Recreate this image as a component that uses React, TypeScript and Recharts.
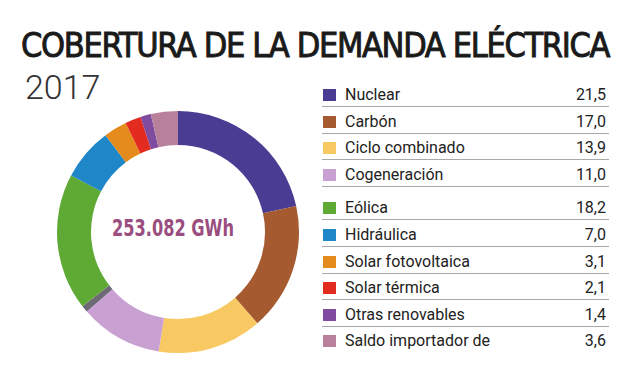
import React from "react";
import { PieChart, Pie, Cell, Label, Legend } from "recharts";

if (typeof document !== "undefined") {
  document.body.style.margin = "0";
}

const categories = [
  "Nuclear",
  "Carbón",
  "Ciclo combinado",
  "Cogeneración",
  "Residuos",
  "Eólica",
  "Hidráulica",
  "Solar fotovoltaica",
  "Solar térmica",
  "Otras renovables",
  "Saldo importador de",
];
const values = [21.5, 17.0, 13.9, 11.0, 0.9, 18.2, 7.0, 3.1, 2.1, 1.4, 3.6];
const valueLabels = ["21,5", "17,0", "13,9", "11,0", "", "18,2", "7,0", "3,1", "2,1", "1,4", "3,6"];
const colors = [
  "#4a3b93",
  "#a65a30",
  "#f8c962",
  "#c9a0d2",
  "#6d6a75",
  "#5eaa34",
  "#1f86c8",
  "#e58a1c",
  "#e42b20",
  "#7f4c9f",
  "#b8809a",
];
const hiddenInLegend = ["Residuos"];
const title = "COBERTURA DE LA DEMANDA ELÉCTRICA";
const subtitle = "2017";
const centerText = "253.082 GWh";

const data = categories.map((name, i) => ({ name, value: values[i], label: valueLabels[i], color: colors[i] }));

const TITLE_FONT = "'Liberation Sans Narrow', 'DejaVu Sans Condensed', sans-serif";
const TITLE_SIZE = 34;
const TITLE_WIDTH = 588;

function titleSpacing(): number {
  try {
    const c = document.createElement("canvas");
    const ctx = c.getContext("2d");
    if (!ctx) return 0;
    ctx.font = `${TITLE_SIZE}px ${TITLE_FONT}`;
    const w = ctx.measureText(title).width;
    return (TITLE_WIDTH - w) / title.length;
  } catch {
    return 0;
  }
}

const LegendContent = () => {
  const rows = data.filter((d) => !hiddenInLegend.includes(d.name));
  return (
    <div style={{ position: "relative", width: 287, height: 280 }}>
      {rows.map((d, i) => {
        const top = i * 26.6 + (i >= 4 ? 7 : 0);
        return (
          <div
            key={d.name}
            style={{
              position: "absolute",
              left: 0,
              top,
              width: 287,
              height: 24,
              borderBottom: i < rows.length - 1 ? "1px solid #a9a9a9" : "none",
              fontFamily: "Roboto, 'Noto Sans', sans-serif",
              fontSize: 16,
              color: "#222",
            }}
          >
            <div
              style={{
                position: "absolute",
                left: 1,
                top: 7,
                width: 13,
                height: 12,
                background: d.color,
              }}
            />
            <div style={{ position: "absolute", left: 23, top: 3, lineHeight: "20px", whiteSpace: "nowrap" }}>{d.name}</div>
            <div style={{ position: "absolute", right: 3, top: 3, lineHeight: "20px" }}>{d.label}</div>
          </div>
        );
      })}
    </div>
  );
};

const CenterLabel = (props: any) => {
  const vb = props.viewBox || {};
  const cx = vb.cx ?? 173;
  const cy = vb.cy ?? 227;
  return (
    <text
      x={cx}
      y={cy + 9}
      textAnchor="middle"
      fill="#9a4d7e"
      fontFamily="'Liberation Sans Narrow', 'DejaVu Sans Condensed', sans-serif"
      fontWeight="bold"
      fontSize={23}
      textLength={122}
      lengthAdjust="spacingAndGlyphs"
    >
      {centerText}
    </text>
  );
};

export default function App() {
  const ls = titleSpacing();
  return (
    <div style={{ position: "relative", width: 640, height: 384, background: "#fff", overflow: "hidden" }}>
      <div style={{ position: "absolute", left: 0, top: 0 }}>
        <PieChart width={640} height={384}>
          <Pie
            data={data}
            dataKey="value"
            nameKey="name"
            cx={173}
            cy={227}
            innerRadius={87}
            outerRadius={121}
            startAngle={90}
            endAngle={-270}
            stroke="none"
            isAnimationActive={false}
          >
            {data.map((d) => (
              <Cell key={d.name} fill={d.color} />
            ))}
            <Label position="center" content={CenterLabel} />
          </Pie>
          <Legend
            content={LegendContent}
            wrapperStyle={{ position: "absolute", left: 322, top: 82, width: 287, height: 280 }}
          />
        </PieChart>
      </div>
      <div
        style={{
          position: "absolute",
          left: 21,
          top: 25,
          width: 615,
          whiteSpace: "nowrap",
          fontFamily: TITLE_FONT,
          fontSize: TITLE_SIZE,
          lineHeight: "40px",
          letterSpacing: `${ls}px`,
          color: "#1a1a1a",
          WebkitTextStroke: "0.9px #1a1a1a",
        }}
      >
        {title}
      </div>
      <div
        style={{
          position: "absolute",
          left: 25,
          top: 67,
          whiteSpace: "nowrap",
          fontFamily: "Roboto, 'Noto Sans', sans-serif",
          fontWeight: 300,
          fontSize: 34,
          lineHeight: "40px",
          color: "#333",
        }}
      >
        {subtitle}
      </div>
    </div>
  );
}
